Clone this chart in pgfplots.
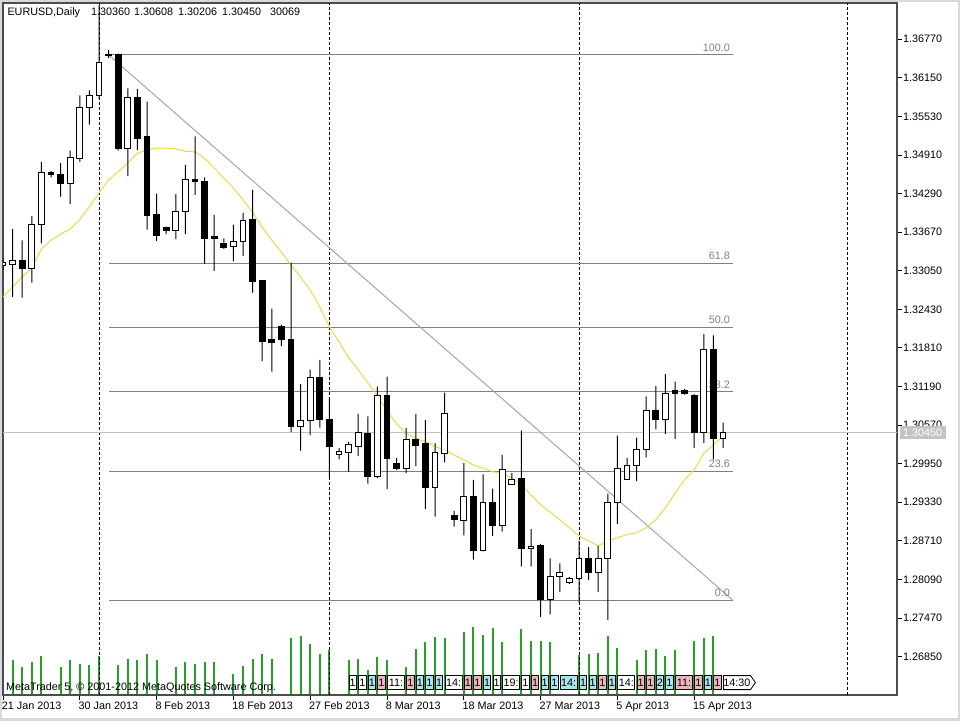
\documentclass[border=0pt]{standalone}
\usepackage{fontspec}
\setmainfont{Liberation Sans}
\usepackage{pgfplots}
\usepackage{pgfplotstable}
\pgfplotsset{compat=1.18}
\usetikzlibrary{shapes.symbols}

\definecolor{volgreen}{RGB}{40,160,40}
\definecolor{mayellow}{RGB}{240,215,70}
\definecolor{fibgray}{RGB}{128,128,128}
\definecolor{trendgray}{RGB}{160,166,180}
\definecolor{pricegray}{RGB}{195,195,195}
\definecolor{lblcyan}{RGB}{170,228,238}
\definecolor{lblpink}{RGB}{240,180,192}

% bar index i: 0 = 21 Jan 2013 (Sunday bars included)
\pgfplotstableread{
i o h l c
0 1.3314 1.3326 1.3306 1.3318
1 1.3315 1.3372 1.3263 1.3322
2 1.3322 1.3354 1.3262 1.3308
3 1.3308 1.3393 1.3286 1.3380
4 1.3379 1.3480 1.3349 1.3463
5 1.3463 1.3465 1.3455 1.3460
6 1.3460 1.3478 1.3424 1.3446
7 1.3446 1.3498 1.3412 1.3487
8 1.3486 1.3587 1.3480 1.3568
9 1.3568 1.3595 1.3540 1.3587
10 1.3587 1.3732 1.3581 1.3639
11 1.3652 1.3660 1.3647 1.3651
12 1.3652 1.3654 1.3498 1.3501
13 1.3502 1.3598 1.3457 1.3584
14 1.3584 1.3597 1.3499 1.3517
15 1.3521 1.3577 1.3371 1.3394
16 1.3395 1.3429 1.3353 1.3361
17 1.3375 1.3376 1.3364 1.3369
18 1.3369 1.3428 1.3356 1.3400
19 1.3400 1.3475 1.3364 1.3452
20 1.3452 1.3521 1.3427 1.3448
21 1.3448 1.3455 1.3316 1.3357
22 1.3360 1.3395 1.3305 1.3357
23 1.3349 1.3357 1.3340 1.3343
24 1.3344 1.3379 1.3320 1.3352
25 1.3352 1.3398 1.3329 1.3385
26 1.3387 1.3435 1.3270 1.3287
27 1.3289 1.3290 1.3160 1.3191
28 1.3194 1.3244 1.3143 1.3190
29 1.3215 1.3218 1.3184 1.3195
30 1.3195 1.3318 1.3046 1.3054
31 1.3054 1.3123 1.3016 1.3064
32 1.3064 1.3146 1.3041 1.3134
33 1.3134 1.3162 1.3053 1.3066
34 1.3066 1.3102 1.2972 1.3022
35 1.3010 1.3020 1.3002 1.3015
36 1.3013 1.3030 1.2982 1.3026
37 1.3023 1.3075 1.3007 1.3045
38 1.3044 1.3071 1.2963 1.2974
39 1.2974 1.3119 1.2972 1.3105
40 1.3105 1.3135 1.2954 1.3004
41 1.2996 1.3004 1.2985 1.2988
42 1.2988 1.3052 1.2980 1.3034
43 1.3034 1.3075 1.2991 1.3025
44 1.3027 1.3065 1.2922 1.2956
45 1.2956 1.3028 1.2910 1.3013
46 1.3012 1.3109 1.2997 1.3075
47 1.2911 1.2919 1.2894 1.2906
48 1.2903 1.2996 1.2880 1.2942
49 1.2942 1.2969 1.2841 1.2855
50 1.2855 1.2978 1.2854 1.2932
51 1.2932 1.2955 1.2879 1.2896
52 1.2896 1.3009 1.2886 1.2986
53 1.2962 1.2980 1.2961 1.2970
54 1.2972 1.3048 1.2830 1.2858
55 1.2858 1.2890 1.2830 1.2862
56 1.2863 1.2866 1.2749 1.2776
57 1.2776 1.2843 1.2753 1.2813
58 1.2813 1.2835 1.2789 1.2820
59 1.2804 1.2813 1.2802 1.2810
60 1.2810 1.2871 1.2771 1.2843
61 1.2843 1.2861 1.2808 1.2820
62 1.2820 1.2863 1.2789 1.2843
63 1.2843 1.2947 1.2744 1.2932
64 1.2933 1.3040 1.2898 1.2988
65 1.2970 1.3004 1.2969 1.2992
66 1.2992 1.3037 1.2967 1.3017
67 1.3017 1.3103 1.3005 1.3080
68 1.3080 1.3120 1.3050 1.3066
69 1.3066 1.3139 1.3043 1.3108
70 1.3112 1.3127 1.3035 1.3107
71 1.3113 1.3115 1.3106 1.3107
72 1.3105 1.3107 1.3020 1.3045
73 1.3045 1.3203 1.3028 1.3179
74 1.3179 1.3201 1.3002 1.3035
75 1.3036 1.30608 1.30206 1.3045
}\candles

% moving average
\pgfplotstableread{
i ma
0 1.3263
1 1.3279
2 1.3295
3 1.3309
4 1.3340
5 1.3354
6 1.3364
7 1.3372
8 1.3387
9 1.3408
10 1.3430
11 1.3451
12 1.3464
13 1.3478
14 1.3494
15 1.3499
16 1.3502
17 1.3502
18 1.3501
19 1.3497
20 1.3496
21 1.3486
22 1.3470
23 1.3454
24 1.3438
25 1.3419
26 1.3399
27 1.3375
28 1.3354
29 1.3335
30 1.3314
31 1.3295
32 1.3274
33 1.3247
34 1.3215
35 1.3191
36 1.3165
37 1.3146
38 1.3125
39 1.3104
40 1.3080
41 1.3059
42 1.3044
43 1.3036
44 1.3030
45 1.3023
46 1.3017
47 1.3009
48 1.3001
49 1.2993
50 1.2988
51 1.2982
52 1.2980
53 1.2972
54 1.2961
55 1.2945
56 1.2929
57 1.2917
58 1.2905
59 1.2892
60 1.2879
61 1.2871
62 1.2863
63 1.2871
64 1.2876
65 1.2881
66 1.2884
67 1.2892
68 1.2905
69 1.2924
70 1.2948
71 1.2969
72 1.2985
73 1.3012
74 1.3025
75 1.3040
}\mavg

% volume (relative)
\pgfplotstableread{
i v
1 35
2 28
3 33
4 39
6 28
7 35
8 31
9 30
10 39
12 30
13 36
14 35
15 41
16 35
18 28
19 33
20 31
21 33
22 33
24 21
25 29
26 36
27 41
28 36
30 57
31 59
32 51
33 41
34 45
36 35
37 36
38 25
39 38
40 35
42 28
43 46
44 53
45 58
46 57
48 63
49 68
50 60
51 67
52 53
54 66
55 54
56 54
57 53
60 40
61 41
62 42
63 59
64 47
66 35
67 45
68 46
69 39
70 45
72 54
73 57
74 59
}\volume

\pgfplotsset{
  chart/.style={at={(3pt,25pt)}, anchor=south west, scale only axis,
    width=894pt, height=692pt, xmin=0, xmax=93.125, enlargelimits=false,
    clip mode=individual},
  price/.style={chart, ymin=1.26233, ymax=1.37353},
}
\tikzset{
  lbl/.style={draw=black, line width=0.8pt, inner sep=0pt, minimum height=14pt,
    minimum width=7.3pt, anchor=south west},
  fiblbl/.style={anchor=base east, inner sep=0pt, yshift=3.5pt, text=fibgray},
}
\newcommand{\lab}[3]{\node[lbl, fill=#3] at (axis cs:#1,5) {#2};}
\newcommand{\labw}[3]{\node[lbl, fill=#3, minimum width=17pt] at (axis cs:#1,5) {#2};}

\begin{document}
\begin{tikzpicture}[x=1pt, y=1pt, font=\fontsize{10.8}{13}\selectfont]
\useasboundingbox (0,0) rectangle (960,720);
\fill[white] (0,0) rectangle (960,720);
\draw[black!15, line width=4pt] (0,0) rectangle (960,720);

% volume and bottom labels
\begin{axis}[chart, hide axis, ymin=0, ymax=692]
\addplot[ycomb, volgreen, line width=2pt, mark=none] table[x=i, y=v] {\volume};
\node[anchor=base west, inner sep=0pt] at (axis cs:0.3,4.5) {MetaTrader 5, © 2001-2012 MetaQuotes Software Corp.};
\lab{36}{1}{white}
\lab{37}{1}{white}
\lab{38}{1}{lblcyan}
\lab{39}{1}{lblpink}
\labw{40}{11:}{white}
\lab{42}{1}{lblpink}
\lab{43}{1}{lblcyan}
\lab{44}{1}{lblcyan}
\lab{45}{1}{lblcyan}
\labw{46}{14:}{white}
\lab{48}{1}{lblpink}
\lab{49}{1}{lblpink}
\lab{50}{1}{lblcyan}
\lab{51}{1}{white}
\labw{52}{19:}{white}
\lab{54}{1}{white}
\lab{55}{1}{lblpink}
\lab{56}{1}{lblcyan}
\lab{57}{1}{lblcyan}
\labw{58}{14:}{lblcyan}
\lab{60}{1}{lblcyan}
\lab{61}{1}{lblcyan}
\lab{62}{1}{lblpink}
\lab{63}{1}{lblcyan}
\labw{64}{14:}{white}
\lab{66}{1}{lblpink}
\lab{67}{1}{lblpink}
\lab{68}{2}{lblcyan}
\lab{69}{1}{lblcyan}
\labw{70}{11:}{lblpink}
\lab{72}{1}{lblpink}
\lab{73}{1}{lblcyan}
\lab{74}{1}{lblpink}
\node[lbl, fill=white, signal, signal to=east, signal pointer angle=110, minimum width=32pt] at (axis cs:75,5) {14:30};
\end{axis}

% price axis, lines, indicator
\begin{axis}[price,
  axis line style={black!70, line width=1.3pt},
  tick align=outside, major tick length=5pt,
  tick style={black, line width=1pt},
  xtick pos=left, ytick pos=right, yticklabel pos=right,
  xtick={0,8,16,24,32,40,48,56,64,72},
  xticklabels={21 Jan 2013,30 Jan 2013,8 Feb 2013,18 Feb 2013,27 Feb 2013,8 Mar 2013,18 Mar 2013,27 Mar 2013,5 Apr 2013,15 Apr 2013},
  xticklabel style={anchor=north west, inner sep=0pt, xshift=-1.3pt, yshift=-1.5pt},
  ytick={1.26850,1.27470,1.28090,1.28710,1.29330,1.29950,1.30570,1.31190,1.31810,1.32430,1.33050,1.33670,1.34290,1.34910,1.35530,1.36150,1.36770},
  yticklabels={1.26850,1.27470,1.28090,1.28710,1.29330,1.29950,1.30570,1.31190,1.31810,1.32430,1.33050,1.33670,1.34290,1.34910,1.35530,1.36150,1.36770},
  yticklabel style={anchor=west, inner sep=0pt, xshift=1pt},
  extra x ticks={10,34,60,88}, extra x tick labels={},
  extra x tick style={grid=major, major tick length=0pt,
    major grid style={black, line width=1pt, dash pattern=on 3pt off 2pt}},
]
\addplot[pricegray, line width=1pt, mark=none] coordinates {(0,1.3045) (93.125,1.3045)};
\addplot[fibgray, line width=1pt, mark=none] coordinates {(11,1.36518) (76,1.36518)};
\addplot[fibgray, line width=1pt, mark=none] coordinates {(11,1.33172) (76,1.33172)};
\addplot[fibgray, line width=1pt, mark=none] coordinates {(11,1.32139) (76,1.32139)};
\addplot[fibgray, line width=1pt, mark=none] coordinates {(11,1.31105) (76,1.31105)};
\addplot[fibgray, line width=1pt, mark=none] coordinates {(11,1.29826) (76,1.29826)};
\addplot[fibgray, line width=1pt, mark=none] coordinates {(11,1.27759) (76,1.27759)};
\addplot[trendgray, line width=1pt, mark=none] coordinates {(11,1.36518) (76,1.27759)};
\addplot[mayellow, line width=1pt, mark=none] table[x=i, y=ma] {\mavg};
\node[fiblbl] at (axis cs:75.73,1.36518) {100.0};
\node[fiblbl] at (axis cs:75.73,1.33172) {61.8};
\node[fiblbl] at (axis cs:75.73,1.32139) {50.0};
\node[fiblbl] at (axis cs:75.73,1.31105) {38.2};
\node[fiblbl] at (axis cs:75.73,1.29826) {23.6};
\node[fiblbl] at (axis cs:75.73,1.27759) {0.0};
\node[anchor=base west, inner sep=0pt, xshift=4.3pt, yshift=-12.3pt] at (axis description cs:0,1)
  {EURUSD,Daily\hspace{11pt}1.30360\hspace{4pt}1.30608\hspace{5pt}1.30206\hspace{5pt}1.30450\hspace{9pt}30069};
\end{axis}

% candles: low base, lower wick, bull body, bear body, upper wick
\begin{axis}[price, hide axis, ybar stacked]
\addplot[draw=none, fill=none, bar width=0.62] table[x=i, y=l] {\candles};
\addplot[fill=black, draw=none, bar width=1pt] table[x=i, y expr={min(\thisrow{o},\thisrow{c})-\thisrow{l}}] {\candles};
\addplot[fill=white, draw=black, line width=1pt, bar width=0.62] table[x=i, y expr={\thisrow{c}>\thisrow{o} ? \thisrow{c}-\thisrow{o} : 0}] {\candles};
\addplot[fill=black, draw=black, line width=1pt, bar width=0.62] table[x=i, y expr={\thisrow{o}>\thisrow{c} ? \thisrow{o}-\thisrow{c} : 0}] {\candles};
\addplot[fill=black, draw=none, bar width=1pt] table[x=i, y expr={\thisrow{h}-max(\thisrow{o},\thisrow{c})}] {\candles};
\node[anchor=west, fill=pricegray, text=white, inner xsep=3.5pt, inner ysep=0pt, minimum height=12.5pt, xshift=2.5pt] at (axis cs:93.125,1.3045) {1.30450};
\end{axis}
\end{tikzpicture}
\end{document}
